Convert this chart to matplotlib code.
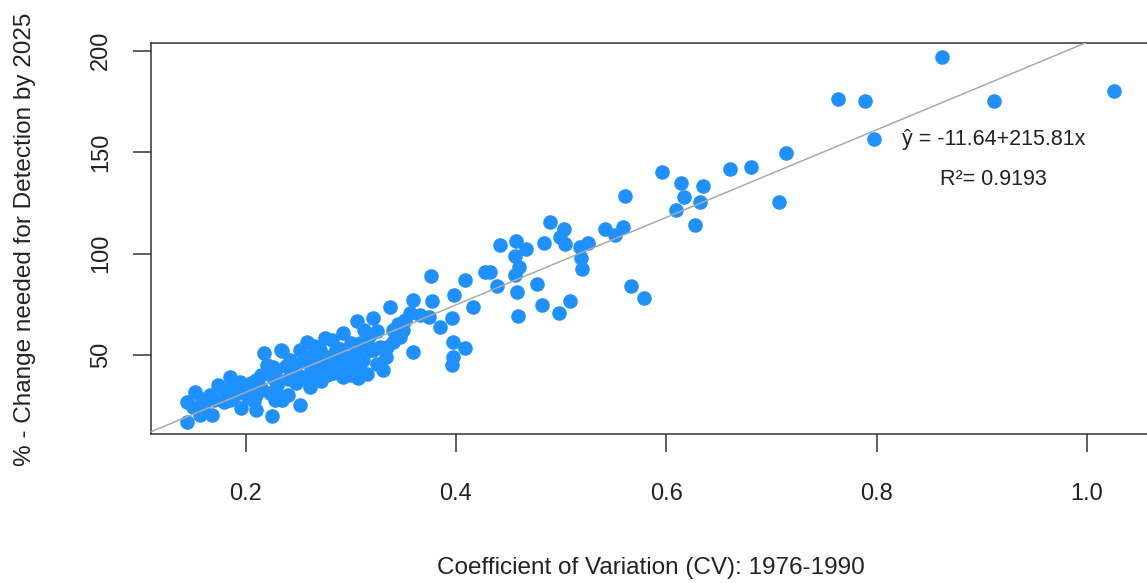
import numpy as np
import matplotlib.pyplot as plt

plt.rcParams['font.family'] = ['Liberation Sans', 'DejaVu Sans']

# CV 1976-1990 vs % change needed for detection by 2025
cv = [0.144, 0.144, 0.152, 0.157, 0.168, 0.166, 0.174, 0.185, 0.195, 0.196,
      0.210, 0.225, 0.210, 0.210, 0.223, 0.226, 0.179, 0.185, 0.217, 0.235,
      0.160, 0.170, 0.178, 0.190, 0.200, 0.205, 0.215, 0.182, 0.195, 0.150,
      0.158, 0.188, 0.202, 0.215, 0.230, 0.240, 0.240, 0.228, 0.245, 0.250,
      0.235, 0.208, 0.238, 0.255,
      0.252, 0.258, 0.234, 0.242, 0.220, 0.277, 0.293, 0.309, 0.306, 0.318,
      0.309, 0.261, 0.248, 0.226, 0.229, 0.228, 0.252, 0.214, 0.277, 0.268,
      0.290, 0.293, 0.282, 0.285,
      0.376, 0.398, 0.359, 0.377, 0.337, 0.356, 0.366, 0.374, 0.396, 0.385,
      0.352, 0.350, 0.347, 0.340, 0.334, 0.333, 0.331, 0.359, 0.397, 0.409,
      0.397, 0.396, 0.306, 0.321, 0.313, 0.318, 0.328, 0.321, 0.299, 0.283,
      0.271, 0.261, 0.312, 0.306, 0.296, 0.287, 0.283, 0.307,
      0.265, 0.272, 0.280, 0.300, 0.315, 0.325, 0.270, 0.262, 0.255, 0.290,
      0.300, 0.305, 0.315, 0.325, 0.340, 0.345, 0.265, 0.275,
      0.409, 0.442, 0.457, 0.467, 0.456, 0.460, 0.456, 0.428, 0.432, 0.439,
      0.458, 0.477, 0.416, 0.482, 0.508, 0.498, 0.459, 0.566, 0.579, 0.489,
      0.503, 0.499, 0.504, 0.484, 0.518, 0.526, 0.519, 0.520, 0.542, 0.551,
      0.559, 0.561, 0.596, 0.614, 0.617, 0.635, 0.632, 0.609, 0.627, 0.661,
      0.681, 0.714, 0.707,
      0.862, 0.763, 0.789, 0.912, 1.026, 0.798]
pct = [17.1, 27.0, 31.9, 20.4, 20.4, 30.3, 35.2, 39.3, 32.7, 23.7,
       22.9, 19.9, 30.3, 37.7, 31.1, 44.2, 27.0, 27.8, 50.8, 52.1,
       26.0, 28.0, 33.0, 30.0, 34.0, 36.0, 40.0, 31.0, 36.5, 24.5,
       28.5, 34.5, 29.0, 33.5, 35.0, 38.0, 30.0, 41.0, 43.0, 40.0,
       28.0, 27.5, 44.5, 47.0,
       52.4, 56.5, 52.4, 47.5, 45.0, 40.1, 39.3, 42.6, 47.5, 52.4,
       55.7, 34.4, 36.0, 38.5, 31.1, 27.8, 25.3, 32.7, 49.2, 44.2,
       46.7, 60.7, 57.4, 51.6,
       88.9, 79.6, 77.1, 76.8, 73.5, 70.5, 69.7, 68.9, 68.1, 63.9,
       67.2, 62.3, 59.0, 56.5, 54.1, 49.2, 42.6, 51.6, 56.5, 53.3,
       49.2, 45.1, 66.9, 68.1, 62.3, 59.8, 54.1, 52.4, 49.2, 47.5,
       52.4, 49.2, 47.5, 42.6, 44.2, 43.4, 41.0, 38.5,
       40.5, 37.0, 45.0, 40.0, 40.5, 45.5, 47.0, 43.0, 38.5, 53.0,
       56.0, 51.5, 57.0, 62.0, 62.5, 65.0, 54.5, 58.5,
       87.0, 104.2, 106.4, 102.1, 98.8, 93.2, 89.3, 90.9, 90.9, 84.0,
       81.2, 85.0, 73.5, 74.5, 76.8, 70.9, 69.4, 84.2, 78.1, 115.6,
       112.1, 108.0, 104.6, 105.4, 103.4, 105.1, 97.7, 92.3, 112.1, 109.2,
       113.3, 128.3, 140.1, 135.0, 128.1, 133.3, 125.6, 121.3, 114.0, 141.6,
       142.6, 149.8, 125.4,
       196.8, 176.1, 175.2, 175.2, 180.2, 156.5]

intercept = -11.64
slope = 215.81
r2 = 0.9193

xticks = [0.2, 0.4, 0.6, 0.8, 1.0]
yticks = [50, 100, 150, 200]

fig = plt.figure(figsize=(11.47, 5.83), dpi=100)
ax = fig.add_axes([0.1314, 0.2556, 0.8786, 0.6712])

xlim = (0.1097, 1.0681)
ylim = (11.0, 204.0)

ax.scatter(cv, pct, s=110, color='#1E90FF', linewidths=0, zorder=2)
xs = np.array(xlim)
ax.plot(xs, intercept + slope * xs, color='#AAAAAA', lw=1.1, zorder=3)

ax.set_xlim(*xlim)
ax.set_ylim(*ylim)
ax.set_xticks(xticks)
ax.set_xticklabels(['0.2', '0.4', '0.6', '0.8', '1.0'])
ax.set_yticks(yticks)
ax.tick_params(axis='both', length=13, width=1.1, color='#333333',
               labelsize=17, labelcolor='#222222')
ax.tick_params(axis='x', pad=22)
ax.tick_params(axis='y', pad=15, labelrotation=90)
for lab in ax.get_yticklabels():
    lab.set_va('center')
for sp in ax.spines.values():
    sp.set_color('#333333')
    sp.set_linewidth(1.1)

ax.text(0.911, 156.0, '\u0177 = -11.64+215.81x', fontsize=15.5,
        color='#222222', ha='center', va='center')
ax.text(0.911, 136.3, 'R\u00b2= %.4f' % r2, fontsize=15.5,
        color='#222222', ha='center', va='center')

fig.text(651 / 1147, 1 - 568 / 583, 'Coefficient of Variation (CV): 1976-1990',
         fontsize=17.5, color='#222222', ha='center', va='center')
fig.text(25 / 1147, 1 - 239 / 583, '% - Change needed for Detection by 2025',
         fontsize=17.5, color='#222222', ha='center', va='center', rotation=90)

fig.savefig('out.png', dpi=100)
